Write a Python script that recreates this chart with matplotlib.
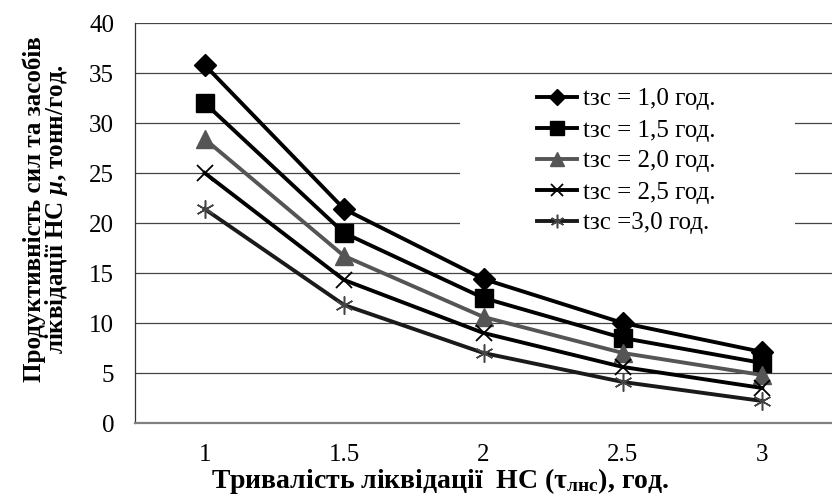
import matplotlib
matplotlib.use("Agg")
import matplotlib.pyplot as plt
from matplotlib.patches import Rectangle

plt.rcParams['font.family'] = ['Liberation Serif', 'DejaVu Serif']
plt.rcParams['mathtext.fontset'] = 'custom'
plt.rcParams['mathtext.rm'] = 'Liberation Serif:bold'
plt.rcParams['mathtext.it'] = 'Liberation Serif:bold:italic'
plt.rcParams['mathtext.bf'] = 'Liberation Serif:bold'

categories = ['1', '1.5', '2', '2.5', '3']
labels = ['tзс = 1,0 год.', 'tзс = 1,5 год.', 'tзс = 2,0 год.', 'tзс = 2,5 год.', 'tзс =3,0 год.']
s1 = [35.8, 21.4, 14.4, 10.0, 7.1]
s2 = [32.0, 19.0, 12.5, 8.5, 6.0]
s3 = [28.4, 16.7, 10.6, 7.0, 4.8]
s4 = [25.0, 14.3, 9.0, 5.6, 3.5]
s5 = [21.4, 11.8, 7.0, 4.1, 2.2]
yticks = [0, 5, 10, 15, 20, 25, 30, 35, 40]

fig = plt.figure(figsize=(8.32, 4.97), dpi=100)
ax = fig.add_axes([135/832, 74/497, 697/832, 400/497])

x = list(range(len(categories)))
styles = [
    dict(color='black', marker='D', ms=11, mfc='black', mec='black', mew=1),
    dict(color='black', marker='s', ms=13, mfc='black', mec='black', mew=1),
    dict(color='#555555', marker='^', ms=13, mfc='#555555', mec='#555555', mew=1),
    dict(color='black', marker='x', ms=12, mec='black', mew=1.3),
    dict(color='#1a1a1a', marker=(6, 2, 0), ms=13, mec='#444444', mew=1.1),
]
for data, lab, st in zip([s1, s2, s3, s4, s5], labels, styles):
    ax.plot(x, data, lw=2.8, label=lab, zorder=3, **st)

ax.set_xlim(-0.5, len(categories) - 0.5)
ax.set_ylim(0, 40)
ax.set_xticks(x)
ax.set_xticklabels(categories)
ax.set_yticks(yticks)
ax.tick_params(axis='both', length=0, labelsize=18)
ax.tick_params(axis='y', pad=15)
ax.tick_params(axis='x', pad=15)
ax.yaxis.grid(True, color='#444444', lw=0.9)
ax.set_axisbelow(True)
for sp in ['top', 'right']:
    ax.spines[sp].set_visible(False)
ax.spines['left'].set_color('#333333')
ax.spines['left'].set_linewidth(0.9)
ax.spines['bottom'].set_color('#808080')
ax.spines['bottom'].set_linewidth(1.6)

ax.set_xlabel('Тривалість ліквідації  НС (τ$_{\\mathrm{лнс}}$), год.', fontsize=20,
              fontweight='bold', va='center')
ax.xaxis.set_label_coords((440 - 135) / 697, -(481 - 423) / 400)
ax.set_ylabel('Продуктивність сил та засобів\nліквідації НС $\\mu$, тонн/год.', fontsize=18,
              fontweight='bold', linespacing=0.85, va='center')
ax.yaxis.set_label_coords(-0.127, 0.535)

# white legend background covering gridlines
ax.add_patch(Rectangle((325/697, (423-235)/400), 335/697, 155/400, transform=ax.transAxes,
                       facecolor='white', edgecolor='none', zorder=1))

leg = ax.legend(loc='upper left', bbox_to_anchor=(0.5768, 0.8375), frameon=False,
                fontsize=18, handlelength=1.6, handletextpad=0.25, labelspacing=0.34,
                borderpad=0, borderaxespad=0, markerscale=0.75)
leg.set_zorder(4)

fig.savefig('out.png', dpi=100)
